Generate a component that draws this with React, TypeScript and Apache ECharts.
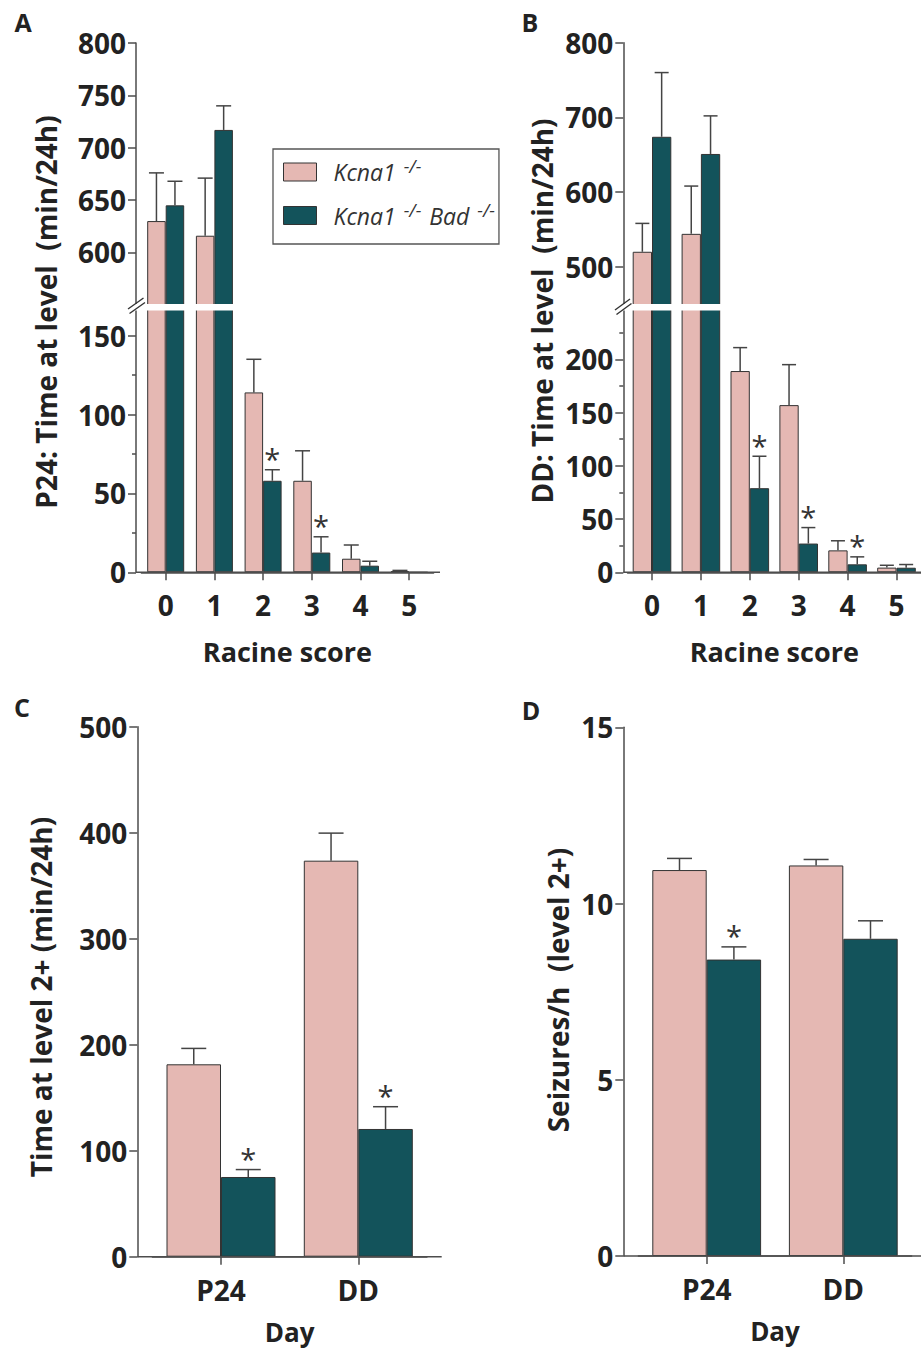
import React, { useEffect, useRef } from "react";
import * as echarts from "echarts";

// ---------- data ----------
const racineScores = ["0", "1", "2", "3", "4", "5"];
const days = ["P24", "DD"];
const groupNames = ["Kcna1-/-", "Kcna1-/- Bad-/-"];

// Panel A: P24 time at level (min/24h)
const p24Kcna1 = [630, 616, 114, 58, 8.6, 0.8];
const p24Kcna1Err = [46, 55, 21, 19, 8.7, 0.4];
const p24Double = [645, 717, 58, 12.5, 4.2, 0];
const p24DoubleErr = [23, 23, 7, 10, 2.8, 0];
const p24Stars = [false, false, true, true, false, false];

// Panel B: DD time at level (min/24h)
const ddKcna1 = [520, 544, 189, 157, 20.6, 4.4];
const ddKcna1Err = [38, 64, 22, 38, 9, 2.2];
const ddDouble = [674, 651, 79, 27, 7.5, 4.3];
const ddDoubleErr = [86, 51, 30, 15, 7, 3];
const ddStars = [false, false, true, true, true, false];

// Panel C: time at level 2+ (min/24h)
const lvl2Kcna1 = [181.5, 373.6];
const lvl2Kcna1Err = [15, 26];
const lvl2Double = [75.2, 120.5];
const lvl2DoubleErr = [7, 21];
const lvl2Stars = [true, true];

// Panel D: seizures/h (level 2+)
const seizKcna1 = [10.95, 11.08];
const seizKcna1Err = [0.33, 0.17];
const seizDouble = [8.41, 9.0];
const seizDoubleErr = [0.36, 0.51];
const seizStars = [true, false];

// tick values
const ticksAUpper = [600, 650, 700, 750, 800];
const ticksALower = [0, 50, 100, 150];
const minorALower = [25, 75, 125];
const ticksBUpper = [500, 600, 700, 800];
const ticksBLower = [0, 50, 100, 150, 200];
const minorBLower = [25, 75, 125, 175, 225];
const ticksC = [0, 100, 200, 300, 400, 500];
const ticksD = [0, 5, 10, 15];

// ---------- style ----------
const PINK = "#e5b8b3";
const TEAL = "#13535b";
const EDGE = "#333333";
const INK = "#222222";
const AXIS = "#4d4d4d";
const ERR = "#444444";
const FONT = "Open Sans";

type Spec = {
  grid: number;
  a: number[];
  aErr: number[];
  b: number[];
  bErr: number[];
  stars: boolean[];
  min: number;
  max: number;
  bw: number;
  cap: number;
};

function buildSeries(spec: Spec) {
  const inRange = (v: number) => v >= spec.min;
  const mkBar = (name: string, vals: number[], color: string) => ({
    type: "bar",
    name,
    xAxisIndex: spec.grid,
    yAxisIndex: spec.grid,
    data: vals.map((v) => (inRange(v) ? v : "-")),
    barWidth: spec.bw,
    barGap: "0%",
    silent: true,
    itemStyle: { color, borderColor: EDGE, borderWidth: 1 },
  });
  const rows: number[][] = [];
  const push = (vals: number[], errs: number[], grp: number) => {
    vals.forEach((v, i) => {
      if (v >= spec.min && v < spec.max) {
        const star = grp === 1 && spec.stars[i] ? 1 : 0;
        if (errs[i] > 0 || star) rows.push([i, v, errs[i], grp, star]);
      }
    });
  };
  push(spec.a, spec.aErr, 0);
  push(spec.b, spec.bErr, 1);
  const bw = spec.bw;
  const cap = spec.cap;
  const err = {
    type: "custom",
    xAxisIndex: spec.grid,
    yAxisIndex: spec.grid,
    z: 5,
    silent: true,
    encode: { x: 0, y: 1 },
    data: rows,
    renderItem: (_p: any, api: any) => {
      const cat = api.value(0);
      const v = api.value(1);
      const e = api.value(2);
      const grp = api.value(3);
      const star = api.value(4);
      const base = api.coord([cat, v]);
      const top = api.coord([cat, v + e]);
      const x = base[0] + (grp === 0 ? -bw / 2 : bw / 2);
      const children: any[] = [];
      if (e > 0) {
        children.push({
          type: "line",
          shape: { x1: x, y1: base[1], x2: x, y2: top[1] },
          style: { stroke: ERR, lineWidth: 1.5 },
        });
        children.push({
          type: "line",
          shape: { x1: x - cap / 2, y1: top[1], x2: x + cap / 2, y2: top[1] },
          style: { stroke: ERR, lineWidth: 1.5 },
        });
      }
      if (star) {
        children.push({
          type: "text",
          x,
          y: top[1] - 11,
          style: {
            text: "*",
            fontFamily: FONT,
            fontSize: 29,
            fill: "#333",
            align: "center",
            verticalAlign: "middle",
          },
        });
      }
      return { type: "group", children };
    },
  };
  return [mkBar(groupNames[0], spec.a, PINK), mkBar(groupNames[1], spec.b, TEAL), err];
}

const labelStyle = {
  fontFamily: FONT,
  fontSize: 28,
  fontWeight: "bold" as const,
  color: INK,
};

function xAxis(grid: number, data: string[], show: boolean, name = "", nameGap = 65, nameSize = 27) {
  return {
    type: "category",
    gridIndex: grid,
    data,
    show,
    name,
    nameLocation: "middle",
    nameGap,
    nameTextStyle: { ...labelStyle, fontSize: nameSize, lineHeight: 28 },
    axisLine: { show: true, lineStyle: { color: AXIS, width: 1.5 } },
    axisTick: { show: true, alignWithLabel: true, length: 8, lineStyle: { color: AXIS, width: 1.5 } },
    axisLabel: { ...labelStyle, margin: 19, interval: 0 },
    splitLine: { show: false },
  };
}

function yAxis(grid: number, min: number, max: number, offset: number, ticks: number[], minor = false) {
  return {
    type: "value",
    gridIndex: grid,
    min,
    max,
    offset,
    splitLine: { show: false },
    axisLine: { show: !minor, lineStyle: { color: AXIS, width: 1.5 } },
    axisTick: {
      show: true,
      length: minor ? 4 : 8,
      customValues: ticks,
      lineStyle: { color: AXIS, width: 1.5 },
    },
    axisLabel: { show: !minor, customValues: ticks, ...labelStyle, margin: 10 },
  };
}

const rotTitle = (text: string, x: number, y: number) => ({
  type: "text",
  x,
  y,
  rotation: Math.PI / 2,
  z: 120,
  style: {
    text,
    fontFamily: FONT,
    fontSize: 28,
    fontWeight: "bold",
    fill: INK,
    align: "center",
    verticalAlign: "middle",
  },
});

const letter = (text: string, x: number, y: number) => ({
  type: "text",
  x,
  y,
  z: 120,
  style: {
    text,
    fontFamily: FONT,
    fontSize: 25,
    fontWeight: "bold",
    fill: INK,
    align: "center",
    verticalAlign: "middle",
  },
});

const hLine = (x1: number, x2: number, y: number) => ({
  type: "line",
  z: 50,
  shape: { x1, y1: y, x2, y2: y },
  style: { stroke: AXIS, lineWidth: 1.5 },
});

const breakMark = (x1: number, y1: number, x2: number, y2: number) => ({
  type: "line",
  z: 110,
  shape: { x1, y1, x2, y2 },
  style: { stroke: "#333", lineWidth: 1.4 },
});

export default function App() {
  const ref = useRef<HTMLDivElement>(null);

  useEffect(() => {
    if (!ref.current) return;
    const chart = echarts.init(ref.current, undefined, { renderer: "svg" });

    const series = [
      ...buildSeries({ grid: 1, a: p24Kcna1, aErr: p24Kcna1Err, b: p24Double, bErr: p24DoubleErr, stars: p24Stars, min: 0, max: 167.5, bw: 18.5, cap: 15 }),
      ...buildSeries({ grid: 0, a: p24Kcna1, aErr: p24Kcna1Err, b: p24Double, bErr: p24DoubleErr, stars: p24Stars, min: 547, max: 800, bw: 18.5, cap: 15 }),
      ...buildSeries({ grid: 3, a: ddKcna1, aErr: ddKcna1Err, b: ddDouble, bErr: ddDoubleErr, stars: ddStars, min: 0, max: 248.2, bw: 19.3, cap: 14 }),
      ...buildSeries({ grid: 2, a: ddKcna1, aErr: ddKcna1Err, b: ddDouble, bErr: ddDoubleErr, stars: ddStars, min: 444.7, max: 800, bw: 19.3, cap: 14 }),
      ...buildSeries({ grid: 4, a: lvl2Kcna1, aErr: lvl2Kcna1Err, b: lvl2Double, bErr: lvl2DoubleErr, stars: lvl2Stars, min: 0, max: 500, bw: 54.5, cap: 25 }),
      ...buildSeries({ grid: 5, a: seizKcna1, aErr: seizKcna1Err, b: seizDouble, bErr: seizDoubleErr, stars: seizStars, min: 0, max: 15, bw: 54.4, cap: 25 }),
    ];

    const italic = { fontFamily: FONT, fontStyle: "italic", color: "#333" };

    chart.setOption({
      animation: false,
      backgroundColor: "#ffffff",
      grid: [
        { left: 141.35, width: 292.2, top: 43, height: 265 },
        { left: 141.35, width: 292.2, top: 308, height: 264.3 },
        { left: 627.55, width: 293.4, top: 42.7, height: 265.3 },
        { left: 627.55, width: 293.4, top: 308, height: 264.3 },
        { left: 152.35, width: 274.6, top: 726.7, height: 530 },
        { left: 638.4, width: 273.2, top: 727.3, height: 528.7 },
        { left: 141.35, width: 292.2, top: 308, height: 264.3 },
        { left: 627.55, width: 293.4, top: 308, height: 264.3 },
      ],
      xAxis: [
        xAxis(0, racineScores, false),
        xAxis(1, racineScores, true, "Racine score"),
        xAxis(2, racineScores, false),
        xAxis(3, racineScores, true, "Racine score"),
        xAxis(4, days, true, "Day", 61, 26),
        xAxis(5, days, true, "Day", 61, 26),
        xAxis(6, racineScores, false),
        xAxis(7, racineScores, false),
      ],
      yAxis: [
        yAxis(0, 547, 800, 5.35, ticksAUpper),
        yAxis(1, 0, 167.5, 5.35, ticksALower),
        yAxis(2, 444.7, 800, 4.25, ticksBUpper),
        yAxis(3, 0, 248.2, 4.25, ticksBLower),
        yAxis(4, 0, 500, 15.05, ticksC),
        yAxis(5, 0, 15, 15.1, ticksD),
        yAxis(6, 0, 167.5, 5.35, minorALower, true),
        yAxis(7, 0, 248.2, 4.25, minorBLower, true),
      ],
      legend: {
        left: 273,
        top: 149,
        orient: "vertical",
        data: groupNames,
        icon: "rect",
        itemWidth: 33,
        itemHeight: 18,
        itemGap: 17,
        padding: [8, 4, 17, 10],
        borderColor: "#555",
        borderWidth: 1.3,
        selectedMode: false,
        itemStyle: { borderColor: EDGE, borderWidth: 1 },
        formatter: (name: string) =>
          name === groupNames[0]
            ? "{g| }{i|Kcna1}{s|-/-}"
            : "{g| }{i|Kcna1}{s|-/-}{b| Bad}{s|-/-}",
        textStyle: {
          rich: {
            g: { width: 12 },
            i: { ...italic, fontSize: 23, lineHeight: 30 },
            b: { ...italic, fontSize: 23, lineHeight: 30, padding: [0, 0, 0, 2] },
            s: { ...italic, fontSize: 18, lineHeight: 17, verticalAlign: "top", padding: [0, 0, 0, 8] },
          },
        },
      },
      graphic: [
        letter("A", 23, 22),
        letter("B", 530, 22),
        letter("C", 22, 707),
        letter("D", 531, 710),
        rotTitle("P24: Time at level  (min/24h)", 46, 312),
        rotTitle("DD: Time at level  (min/24h)", 542, 311),
        rotTitle("Time at level 2+ (min/24h)", 41, 997),
        rotTitle("Seizures/h  (level 2+)", 558, 990),
        hLine(136, 440, 572.3),
        hLine(623.3, 921, 572.3),
        hLine(137.3, 441.7, 1256.7),
        hLine(623.3, 921, 1256),
        { type: "rect", z: 100, shape: { x: 126, y: 304, width: 318, height: 6.5 }, style: { fill: "#ffffff" } },
        { type: "rect", z: 100, shape: { x: 612, y: 304, width: 309, height: 6.5 }, style: { fill: "#ffffff" } },
        breakMark(128, 309, 143.5, 298),
        breakMark(129.5, 313.5, 145, 302.5),
        breakMark(615, 310, 630, 299),
        breakMark(616.5, 314.5, 631.5, 303.5),
      ],
      series,
    });

    return () => chart.dispose();
  }, []);

  return (
    <div
      ref={ref}
      style={{ position: "fixed", left: 0, top: 0, width: 921, height: 1351, background: "#fff" }}
    />
  );
}
